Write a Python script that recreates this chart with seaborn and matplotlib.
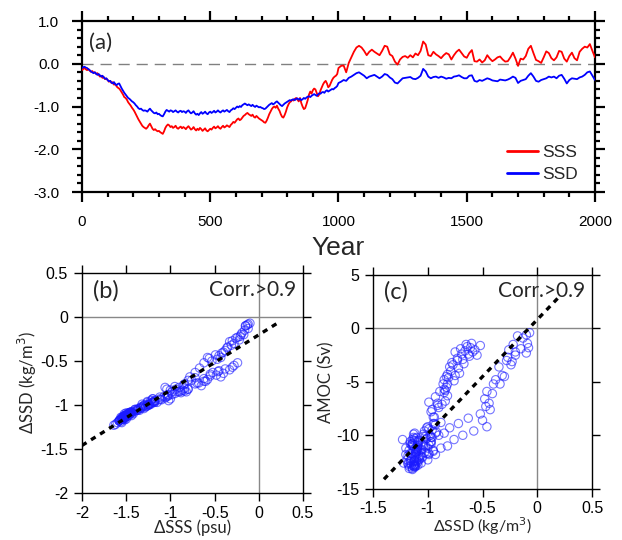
import numpy as np
import pandas as pd
import seaborn as sns
import matplotlib.pyplot as plt
from matplotlib.ticker import MultipleLocator, FormatStrFormatter

# ==========================================
# DATA
# ==========================================

# 5-year steps for years 0-995, 10-year steps for 1000-2000
YEARS = list(range(0, 1000, 5)) + list(range(1000, 2001, 10))

SSS_EARLY = [
    -0.15, -0.12, -0.10, -0.13, -0.15, -0.12, -0.16, -0.19, -0.17, -0.21,
    -0.20, -0.24, -0.22, -0.26, -0.30, -0.28, -0.33, -0.31, -0.36, -0.35,
    -0.38, -0.42, -0.40, -0.45, -0.43, -0.49, -0.47, -0.53, -0.56, -0.58,
    -0.62, -0.67, -0.72, -0.78, -0.80, -0.84, -0.90, -0.94, -0.98, -1.03,
    -1.07, -1.12, -1.18, -1.24, -1.30, -1.35, -1.40, -1.45, -1.48, -1.50,
    -1.52, -1.49, -1.44, -1.40, -1.46, -1.52, -1.55, -1.53, -1.56, -1.58,
    -1.57, -1.60, -1.62, -1.64, -1.58, -1.50, -1.45, -1.42, -1.44, -1.48,
    -1.46, -1.50, -1.48, -1.45, -1.50, -1.52, -1.49, -1.47, -1.51, -1.48,
    -1.50, -1.53, -1.49, -1.46, -1.50, -1.54, -1.52, -1.48, -1.53, -1.56,
    -1.52, -1.55, -1.50, -1.53, -1.57, -1.54, -1.51, -1.56, -1.58, -1.55,
    -1.52, -1.54, -1.50, -1.47, -1.51, -1.49, -1.46, -1.50, -1.52, -1.48,
    -1.45, -1.49, -1.47, -1.44, -1.46, -1.48, -1.43, -1.40, -1.36, -1.38,
    -1.34, -1.30, -1.28, -1.32, -1.30, -1.26, -1.22, -1.20, -1.17, -1.15,
    -1.18, -1.20, -1.22, -1.19, -1.24, -1.26, -1.22, -1.25, -1.28, -1.30,
    -1.32, -1.34, -1.37, -1.38, -1.33, -1.26, -1.18, -1.12, -1.06, -1.02,
    -1.00, -1.03, -0.98, -1.05, -1.10, -1.18, -1.24, -1.26, -1.20, -1.12,
    -1.02, -0.95, -0.90, -0.88, -0.84, -0.86, -0.82, -0.80, -0.84, -0.88,
    -0.80, -0.92, -1.00, -1.06, -1.04, -0.95, -0.85, -0.72, -0.65, -0.70,
    -0.62, -0.58, -0.60, -0.68, -0.76, -0.72, -0.62, -0.55, -0.48, -0.43,
    -0.40, -0.46, -0.55, -0.52, -0.45, -0.38, -0.33, -0.30, -0.28, -0.24,
]
SSS_LATE = [
    -0.10, -0.05, -0.04, -0.20, 0.02, 0.15, 0.28, 0.38, 0.42, 0.38,
    0.30, 0.20, 0.28, 0.33, 0.28, 0.24, 0.20, 0.30, 0.42, 0.40,
    0.22, 0.18, 0.05, -0.02, 0.10, 0.16, 0.18, 0.14, 0.20, 0.15,
    0.24, 0.20, 0.30, 0.52, 0.45, 0.20, 0.18, 0.28, 0.22, 0.18,
    0.13, 0.20, 0.25, 0.22, 0.10, 0.20, 0.28, 0.33, 0.25, 0.17,
    0.14, 0.25, 0.32, 0.06, 0.05, 0.10, 0.03, 0.08, 0.20, 0.12,
    0.06, 0.10, 0.15, 0.17, 0.10, 0.05, 0.06, 0.15, 0.26, 0.12,
    -0.05, 0.12, 0.10, 0.18, 0.35, 0.42, 0.25, 0.09, 0.06, 0.02,
    0.15, 0.29, 0.25, 0.13, 0.08, 0.15, 0.30, 0.28, 0.12, 0.05,
    0.18, 0.26, 0.13, 0.08, 0.28, 0.35, 0.40, 0.38, 0.46, 0.30, 0.15,
]

SSD_EARLY = [
    -0.10, -0.08, -0.07, -0.09, -0.10, -0.13, -0.15, -0.18, -0.20, -0.22,
    -0.20, -0.23, -0.26, -0.24, -0.27, -0.30, -0.28, -0.32, -0.35, -0.34,
    -0.38, -0.41, -0.40, -0.44, -0.46, -0.43, -0.48, -0.50, -0.47, -0.46,
    -0.52, -0.58, -0.63, -0.68, -0.72, -0.76, -0.80, -0.82, -0.85, -0.88,
    -0.90, -0.93, -0.97, -1.00, -1.04, -1.06, -1.05, -1.08, -1.10, -1.09,
    -1.10, -1.12, -1.08, -1.05, -1.09, -1.12, -1.15, -1.16, -1.14, -1.18,
    -1.17, -1.20, -1.22, -1.23, -1.18, -1.12, -1.08, -1.10, -1.12, -1.09,
    -1.10, -1.13, -1.11, -1.09, -1.12, -1.14, -1.11, -1.10, -1.13, -1.11,
    -1.12, -1.15, -1.11, -1.09, -1.13, -1.16, -1.14, -1.11, -1.16, -1.19,
    -1.17, -1.20, -1.16, -1.13, -1.17, -1.15, -1.12, -1.16, -1.18, -1.14,
    -1.12, -1.15, -1.13, -1.10, -1.14, -1.12, -1.09, -1.12, -1.14, -1.11,
    -1.09, -1.12, -1.10, -1.08, -1.11, -1.13, -1.09, -1.07, -1.04, -1.06,
    -1.03, -1.00, -1.02, -0.99, -1.01, -0.97, -0.95, -0.93, -0.95, -0.97,
    -0.95, -0.97, -0.99, -0.96, -0.99, -1.01, -0.98, -1.00, -1.02, -1.01,
    -1.03, -1.04, -1.06, -1.05, -1.02, -0.99, -0.96, -0.94, -0.92, -0.95,
    -0.93, -0.90, -0.88, -0.91, -0.94, -0.97, -0.99, -0.96, -0.93, -0.91,
    -0.89, -0.87, -0.85, -0.86, -0.84, -0.83, -0.85, -0.82, -0.81, -0.84,
    -0.82, -0.85, -0.83, -0.80, -0.82, -0.79, -0.77, -0.76, -0.78, -0.75,
    -0.73, -0.71, -0.73, -0.75, -0.72, -0.69, -0.70, -0.67, -0.66, -0.68,
    -0.64, -0.62, -0.65, -0.63, -0.61, -0.59, -0.60, -0.57, -0.55, -0.52,
]
SSD_LATE = [
    -0.45, -0.42, -0.38, -0.40, -0.33, -0.30, -0.26, -0.22, -0.20, -0.24,
    -0.28, -0.34, -0.30, -0.28, -0.26, -0.30, -0.34, -0.30, -0.24, -0.26,
    -0.32, -0.36, -0.44, -0.46, -0.40, -0.34, -0.33, -0.32, -0.31, -0.35,
    -0.36, -0.33, -0.28, -0.12, -0.18, -0.30, -0.34, -0.31, -0.30, -0.33,
    -0.30, -0.32, -0.35, -0.33, -0.34, -0.30, -0.29, -0.27, -0.31, -0.34,
    -0.34, -0.28, -0.27, -0.40, -0.42, -0.38, -0.40, -0.37, -0.34, -0.36,
    -0.39, -0.40, -0.41, -0.37, -0.38, -0.39, -0.37, -0.34, -0.30, -0.33,
    -0.45, -0.40, -0.38, -0.36, -0.28, -0.22, -0.30, -0.40, -0.42, -0.38,
    -0.36, -0.34, -0.30, -0.32, -0.30, -0.34, -0.28, -0.26, -0.35, -0.46,
    -0.38, -0.34, -0.35, -0.36, -0.32, -0.30, -0.26, -0.20, -0.18, -0.28, -0.38,
]

# AMOC anomaly (Sv) for the same 5-year steps, years 0-995
AMOC_EARLY = [
    -0.6, -1.8, -0.4, -1.4, -2.3, -0.9, -1.9, -0.7, -2.5, -1.5,
    -2.2, -3.1, -2.0, -3.4, -2.7, -4.5, -3.0, -4.4, -3.6, -5.2,
    -4.8, -6.1, -5.2, -7.0, -5.9, -7.6, -6.6, -8.6, -7.3, -9.2,
    -8.0, -9.6, -8.4, -10.0, -8.9, -10.4, -9.3, -11.0, -9.8, -11.2,
    -10.0, -11.8, -10.6, -12.3, -11.0, -12.6, -10.9, -12.2, -11.3, -12.8,
    -11.4, -12.9, -10.5, -12.1, -11.0, -13.0, -11.7, -12.4, -10.8, -12.7,
    -13.1, -11.8, -12.6, -10.4, -11.9, -9.8, -12.3, -11.1, -12.8, -10.6,
    -12.2, -11.0, -12.9, -10.7, -12.0, -13.2, -11.5, -12.4, -9.9, -11.6,
    -12.4, -10.9, -12.8, -11.3, -10.2, -12.6, -13.1, -11.9, -10.8, -12.3,
    -12.9, -11.2, -10.6, -12.5, -11.4, -12.8, -10.3, -11.7, -12.6, -11.0,
    -10.5, -12.2, -12.9, -11.5, -10.8, -12.4, -11.1, -12.7, -10.4, -11.8,
    -12.5, -11.3, -10.2, -12.0, -11.6, -12.8, -10.9, -11.9, -9.9, -11.4,
    -9.6, -11.2, -10.1, -11.7, -9.3, -10.8, -11.5, -9.8, -8.9, -10.6,
    -11.4, -10.2, -11.8, -9.5, -10.9, -11.7, -10.0, -9.2, -11.0, -10.3,
    -11.6, -10.1, -11.3, -12.0, -10.4, -9.4, -10.2, -8.9, -9.7, -8.3,
    -9.0, -7.4, -8.8, -7.0, -8.3, -7.8, -6.9, -7.6, -6.4, -7.2,
    -5.9, -7.1, -6.0, -5.2, -6.8, -5.5, -4.8, -6.3, -4.6, -5.8,
    -4.3, -5.7, -4.5, -3.6, -5.2, -4.0, -3.4, -4.9, -3.2, -4.4,
    -3.0, -4.2, -2.8, -2.2, -3.7, -2.4, -1.9, -3.3, -2.1, -2.9,
    -1.7, -2.6, -1.5, -2.4, -1.8, -2.2, -1.4, -2.0, -2.5, -1.6,
]

FIT_RANGE_B = (-2.0, 0.2)
FIT_RANGE_C = (-1.4, 0.2)

OUTPUT_IMAGE = "out.png"

TICK_FONT = "Liberation Sans"
TEXT_FONT = "Lato"


def style_axes(ax, major_len, minor_len, width):
    ax.tick_params(which="both", direction="out", top=True, right=True,
                   width=width, colors="black")
    ax.tick_params(which="major", length=major_len)
    ax.tick_params(which="minor", length=minor_len)
    for sp in ax.spines.values():
        sp.set_linewidth(width)
        sp.set_color("black")


def fit_line(ax, x, y, xr):
    k, b = np.polyfit(x, y, 1)
    xs = np.array(xr)
    ax.plot(xs, k * xs + b, color="black", lw=2.4, ls=(0, (1.6, 1.6)),
            zorder=5)


def scatter_panel(ax, x, y, tag):
    ax.axhline(0, color="#888888", lw=1.0, zorder=1)
    ax.axvline(0, color="#888888", lw=1.0, zorder=1)
    sns.scatterplot(x=x, y=y, ax=ax, marker="o", s=36, facecolor="none",
                    edgecolor="#1a1aff", linewidth=0.8, alpha=0.6, zorder=3)
    fam = [TEXT_FONT, "DejaVu Sans"]
    ax.text(0.05, 0.97, tag, transform=ax.transAxes, fontsize=17,
            va="top", ha="left", family=fam)
    ax.text(0.97, 0.97, "Corr.>0.9", transform=ax.transAxes,
            fontsize=15, va="top", ha="right", family=fam)
    fmt = plt.FuncFormatter(lambda v, p: f"{v:g}")
    ax.xaxis.set_major_formatter(fmt)
    ax.yaxis.set_major_formatter(fmt)
    style_axes(ax, 6, 3, 1.0)
    ax.tick_params(labelsize=11.5, pad=4)
    ax.tick_params(axis="x", pad=3)


def main():
    sns.set_theme(style="ticks")
    plt.rcParams["font.family"] = [TICK_FONT, "DejaVu Sans"]
    fam = [TEXT_FONT, "DejaVu Sans"]

    sss = SSS_EARLY + SSS_LATE
    ssd = SSD_EARLY + SSD_LATE
    df = pd.DataFrame({
        "year": YEARS * 2,
        "value": sss + ssd,
        "var": ["SSS"] * len(sss) + ["SSD"] * len(ssd),
    })

    fig = plt.figure(figsize=(6.22, 5.40), dpi=100)
    ax_a = fig.add_axes([0.1318, 0.6444, 0.8248, 0.3167])
    ax_b = fig.add_axes([0.1318, 0.0870, 0.3553, 0.4074])
    ax_c = fig.add_axes([0.5997, 0.0950, 0.3521, 0.3957])

    # ---------------- (a) time series ----------------
    ax_a.axhline(0, color="#808080", lw=1.0, ls=(0, (8, 5)), zorder=1)
    sns.lineplot(data=df, x="year", y="value", hue="var",
                 palette={"SSS": "#ff0000", "SSD": "#0000ff"},
                 lw=1.3, ax=ax_a, zorder=3)
    ax_a.set_xlim(0, 2000)
    ax_a.set_ylim(-3, 1)
    ax_a.xaxis.set_major_locator(MultipleLocator(500))
    ax_a.xaxis.set_minor_locator(MultipleLocator(100))
    ax_a.yaxis.set_major_locator(MultipleLocator(1.0))
    ax_a.yaxis.set_minor_locator(MultipleLocator(0.2))
    ax_a.yaxis.set_major_formatter(FormatStrFormatter("%.1f"))
    style_axes(ax_a, 7.5, 3.8, 1.6)
    ax_a.tick_params(which="major", labelsize=11, pad=9)
    ax_a.set_xlabel("Year", fontsize=19, labelpad=5)
    ax_a.set_ylabel("")
    ax_a.text(0.013, 0.93, "(a)", transform=ax_a.transAxes, fontsize=16,
              va="top", ha="left", family=fam)
    leg = ax_a.legend(loc="lower right", frameon=False, fontsize=12.5,
                      handlelength=1.8, handletextpad=0.2,
                      labelspacing=0.35, borderaxespad=0.3,
                      bbox_to_anchor=(0.99, -0.01))
    for line in leg.get_lines():
        line.set_linewidth(2.0)

    # ---------------- (b) SSS vs SSD ----------------
    n = len(SSS_EARLY)
    scatter_panel(ax_b, SSS_EARLY, SSD_EARLY[:n], "(b)")
    fit_line(ax_b, SSS_EARLY, SSD_EARLY[:n], FIT_RANGE_B)
    ax_b.set_xlim(-2, 0.5)
    ax_b.set_ylim(-2, 0.5)
    ax_b.xaxis.set_major_locator(MultipleLocator(0.5))
    ax_b.yaxis.set_major_locator(MultipleLocator(0.5))
    ax_b.set_xlabel("ΔSSS (psu)", fontsize=12, labelpad=-1, family=fam)
    ax_b.set_ylabel("ΔSSD (kg/m$^3$)", fontsize=12, labelpad=1, family=fam)

    # ---------------- (c) SSD vs AMOC ----------------
    scatter_panel(ax_c, SSD_EARLY, AMOC_EARLY, "(c)")
    fit_line(ax_c, SSD_EARLY, AMOC_EARLY, FIT_RANGE_C)
    ax_c.set_xlim(-1.5, 0.5)
    ax_c.set_ylim(-15, 5)
    ax_c.xaxis.set_major_locator(MultipleLocator(0.5))
    ax_c.yaxis.set_major_locator(MultipleLocator(5))
    ax_c.set_xlabel("ΔSSD (kg/m$^3$)", fontsize=11.5, labelpad=-1,
                    family=fam)
    ax_c.set_ylabel("AMOC (Sv)", fontsize=12, labelpad=1, family=fam)

    fig.savefig(OUTPUT_IMAGE, dpi=100)


if __name__ == "__main__":
    main()
